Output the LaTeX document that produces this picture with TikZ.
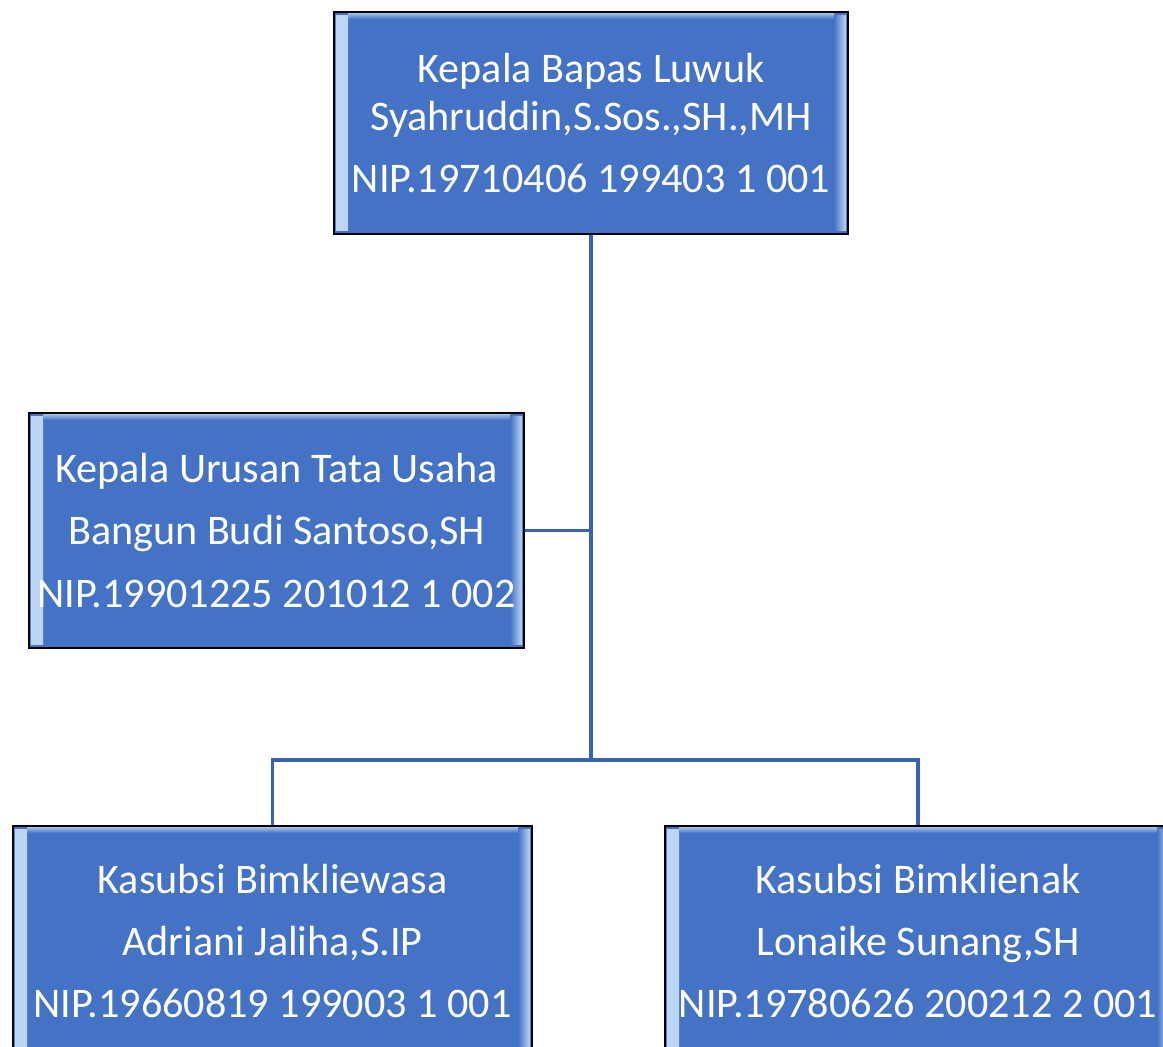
\documentclass[tikz,border=0pt]{standalone}
\usepackage{fontspec}
\setmainfont{Carlito}
\usepackage{xcolor}
\usetikzlibrary{calc}
\definecolor{boxblue}{RGB}{68,114,196}
\definecolor{bevlight}{RGB}{190,215,245}
\definecolor{linkblue}{RGB}{58,98,176}
\tikzset{
    unitbox/.style ={draw = black, line width = 1.1pt, fill = boxblue, text = white,
        align = center, inner sep = 0pt,
        font = \fontsize{24}{35.5}\selectfont,
        path picture = {
            % bevel strips on the inner edges
            \fill [left color = bevlight, right color = boxblue]
                ([xshift = 1pt, yshift = -2pt]path picture bounding box.north west)
                rectangle ([xshift = 8pt, yshift = 2pt]path picture bounding box.south west);
            \fill [right color = bevlight, left color = boxblue]
                ([xshift = -1pt, yshift = -2pt]path picture bounding box.north east)
                rectangle ([xshift = -8pt, yshift = 2pt]path picture bounding box.south east);
            \fill [top color = bevlight!70!boxblue, bottom color = boxblue]
                ([xshift = 8pt, yshift = -1pt]path picture bounding box.north west)
                rectangle ([xshift = -8pt, yshift = -4pt]path picture bounding box.north east);
        }},
    link/.style ={draw = linkblue, line width = 1.8pt}
}
\begin{document}
\begin{tikzpicture}[x = 0.02cm, y = -0.02cm]
\useasboundingbox (0, 0) rectangle (1163, 1047);
\clip (0, 0) rectangle (1163, 1047);

    \node (kepala) at (591, 123) [unitbox, minimum width = 10.28cm, minimum height = 4.44cm]
        {Kepala Bapas Luwuk\\[-8pt] Syahruddin,S.Sos.,SH.,MH\\ NIP.19710406 199403 1 001};
    \node (tu) at (276.5, 530.5) [unitbox, minimum width = 9.9cm, minimum height = 4.7cm]
        {Kepala Urusan Tata Usaha\\ Bangun Budi Santoso,SH\\ NIP.19901225 201012 1 002};
    \node (dewasa) at (272.5, 941) [unitbox, minimum width = 10.38cm, minimum height = 4.6cm]
        {Kasubsi Bimkliewasa\\ Adriani Jaliha,S.IP\\ NIP.19660819 199003 1 001};
    \node (anak) at (918, 941) [unitbox, minimum width = 10.12cm, minimum height = 4.6cm]
        {Kasubsi Bimklienak\\ Lonaike Sunang,SH\\ NIP.19780626 200212 2 001};

    \coordinate (bus) at (591, 760);
    \draw [link] (kepala.south) -- (bus);
    \draw [link] (tu.east) -- (tu.east -| kepala.south);
    \draw [link] (dewasa.north) |- (bus) -| (anak.north);
\end{tikzpicture}
\end{document}
